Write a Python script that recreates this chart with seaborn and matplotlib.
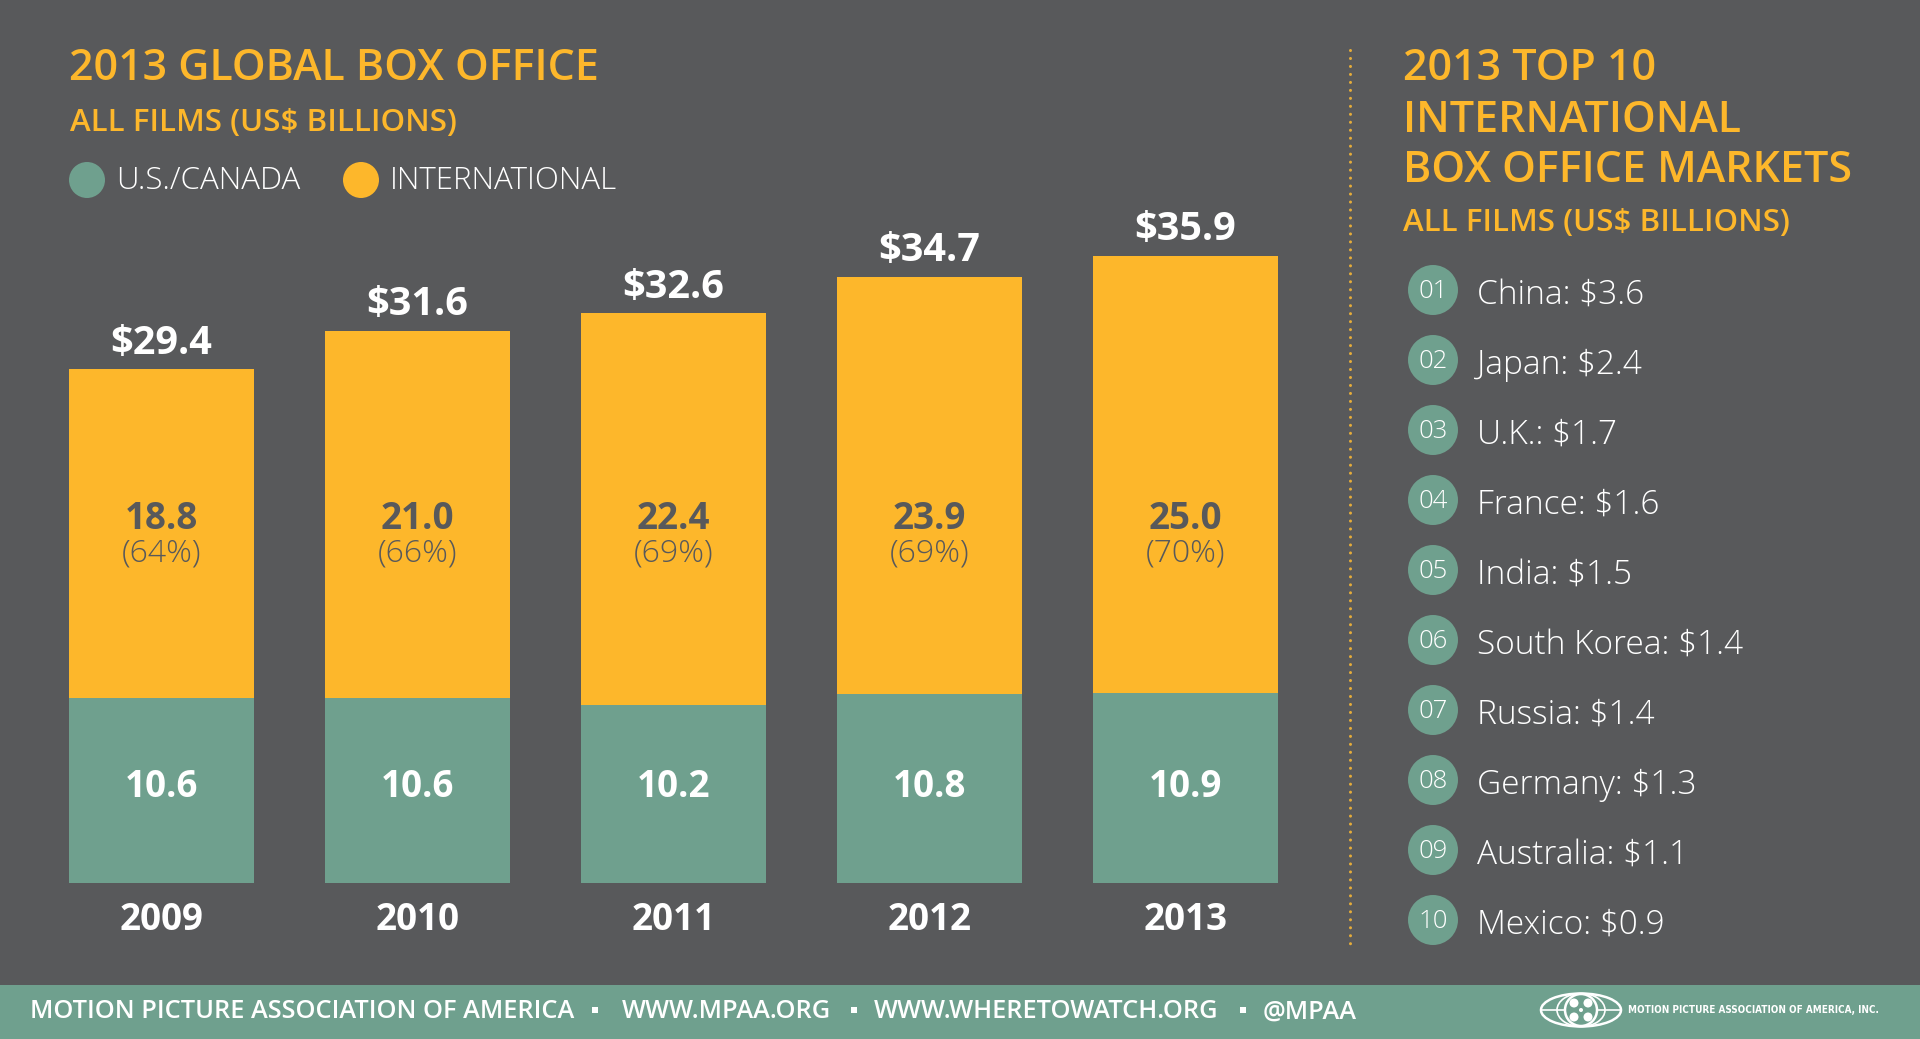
import matplotlib
matplotlib.use('Agg')
import matplotlib.pyplot as plt
from matplotlib.patches import Circle, Ellipse, Rectangle
import pandas as pd
import seaborn as sns

years = ['2009', '2010', '2011', '2012', '2013']
us_canada = [10.6, 10.6, 10.2, 10.8, 10.9]
international = [18.8, 21.0, 22.4, 23.9, 25.0]
intl_share = ['(64%)', '(66%)', '(69%)', '(69%)', '(70%)']
totals = ['$29.4', '$31.6', '$32.6', '$34.7', '$35.9']
markets = ['China: $3.6', 'Japan: $2.4', 'U.K.: $1.7', 'France: $1.6', 'India: $1.5',
           'South Korea: $1.4', 'Russia: $1.4', 'Germany: $1.3', 'Australia: $1.1', 'Mexico: $0.9']

BG = '#58595b'
ORANGE = '#fdb72b'
GREEN = '#6fa08e'
WHITE = '#ffffff'
W, H = 1920, 1039

sns.set_theme(style='white')
plt.rcParams['font.family'] = ['Open Sans', 'DejaVu Sans']

df = pd.DataFrame({'year': years, 'us': us_canada, 'intl': international})

fig = plt.figure(figsize=(W / 100, H / 100), dpi=100, facecolor=BG)

# overlay in pixel coordinates for the text and the decorations
page = fig.add_axes([0, 0, 1, 1], zorder=2)
page.set_xlim(0, W)
page.set_ylim(H, 0)
page.axis('off')
page.patch.set_alpha(0)

# chart axes: 5 slots of 256px, 17.47px per US$ billion
ax = fig.add_axes([33.5 / W, (H - 883) / H, 1280 / W, 699 / H], zorder=1)
ax.set_facecolor(BG)
sns.barplot(data=df, x='year', y='us', color=GREEN, saturation=1, width=0.72, linewidth=0, ax=ax)
sns.barplot(data=df, x='year', y='intl', bottom=df['us'], color=ORANGE, saturation=1, width=0.72,
            linewidth=0, ax=ax)
ax.set_xlim(-0.5, 4.5)
ax.set_ylim(0, 40)
ax.set_xlabel('')
ax.set_ylabel('')
ax.set_yticks([])
ax.tick_params(axis='x', length=0, pad=13, colors=WHITE)
for lab in ax.get_xticklabels():
    lab.set_fontsize(26.5)
    lab.set_fontweight('bold')
sns.despine(ax=ax, left=True, bottom=True)

for i, year in enumerate(years):
    top = us_canada[i] + international[i]
    ax.text(i, 5.5, f'{us_canada[i]:.1f}', color=WHITE, fontsize=26.5, fontweight='bold',
            ha='center', va='center')
    ax.text(i, 20.85, f'{international[i]:.1f}', color=BG, fontsize=26.5, fontweight='bold',
            ha='center', va='center')
    ax.text(i, 18.85, intl_share[i], color=BG, fontsize=23, fontweight='light',
            ha='center', va='center')
    ax.text(i, top + 0.38, totals[i], color=WHITE, fontsize=28.5, fontweight='bold',
            ha='center', va='bottom')

# left header
page.text(69, 69, '2013 GLOBAL BOX OFFICE', color=ORANGE, fontsize=31, fontweight='semibold', va='center')
page.text(70, 123, 'ALL FILMS (US$ BILLIONS)', color=ORANGE, fontsize=22.5, fontweight='semibold', va='center')
page.add_patch(Circle((87, 180), 18, color=GREEN, lw=0))
page.text(116, 181, 'U.S./CANADA', color=WHITE, fontsize=22.5, fontweight='light', va='center')
page.add_patch(Circle((361, 180), 18, color=ORANGE, lw=0))
page.text(390, 181, 'INTERNATIONAL', color=WHITE, fontsize=22.5, fontweight='light', va='center')

# divider
page.plot([1350, 1350], [50, 947], color='#e5ac3a', lw=2.2, ls=(0, (0.01, 2.6)), dash_capstyle='round')

# right header
page.text(1403, 69, '2013 TOP 10', color=ORANGE, fontsize=31, fontweight='semibold', va='center')
page.text(1403, 120, 'INTERNATIONAL', color=ORANGE, fontsize=31, fontweight='semibold', va='center')
page.text(1403, 170, 'BOX OFFICE MARKETS', color=ORANGE, fontsize=31, fontweight='semibold', va='center')
page.text(1403, 223, 'ALL FILMS (US$ BILLIONS)', color=ORANGE, fontsize=22.5, fontweight='semibold', va='center')

for i, market in enumerate(markets):
    y = 290 + i * 70
    page.add_patch(Circle((1433, y), 25, color=GREEN, lw=0))
    page.text(1433, y + 2, f'{i + 1:02d}', color=WHITE, fontsize=18.5, fontweight='light', ha='center', va='center')
    page.text(1477, y + 5, market, color=WHITE, fontsize=24, fontweight='light', va='center')

# footer
page.add_patch(Rectangle((0, 985), W, 54, color=GREEN, lw=0))
page.text(30, 1012, 'MOTION PICTURE ASSOCIATION OF AMERICA', color=WHITE, fontsize=18.3, fontweight='semibold', va='center')
page.text(622, 1012, 'WWW.MPAA.ORG', color=WHITE, fontsize=18.3, fontweight='semibold', va='center')
page.text(874, 1012, 'WWW.WHERETOWATCH.ORG', color=WHITE, fontsize=18.3, fontweight='semibold', va='center')
page.text(1263, 1012, '@MPAA', color=WHITE, fontsize=18.3, fontweight='semibold', va='center')
for x in [595, 854, 1243]:
    page.add_patch(Rectangle((x - 3, 1007), 6, 6, color=WHITE, lw=0))

# MPAA logo
page.add_patch(Ellipse((1581, 1010), 80, 33, fill=False, ec=WHITE, lw=1.8))
page.add_patch(Ellipse((1581, 1010), 48, 33, fill=False, ec=WHITE, lw=1.2))
page.plot([1541, 1621], [1010, 1010], color=WHITE, lw=1.2)
page.add_patch(Circle((1581, 1010), 16, fc=GREEN, ec=WHITE, lw=1.8, zorder=3))
for dx, dy in [(-7, -7), (7, -7), (-7, 7), (7, 7)]:
    page.add_patch(Circle((1581 + dx, 1010 + dy), 4.5, color=WHITE, lw=0, zorder=4))
page.add_patch(Circle((1581, 1010), 2, color=WHITE, lw=0, zorder=4))
page.text(1628, 1010, 'MOTION PICTURE ASSOCIATION OF AMERICA, INC.', color=WHITE, fontsize=7.1,
          fontweight='bold', va='center', family='DejaVu Sans', stretch='condensed')

fig.savefig('out.png', dpi=100, facecolor=BG)
